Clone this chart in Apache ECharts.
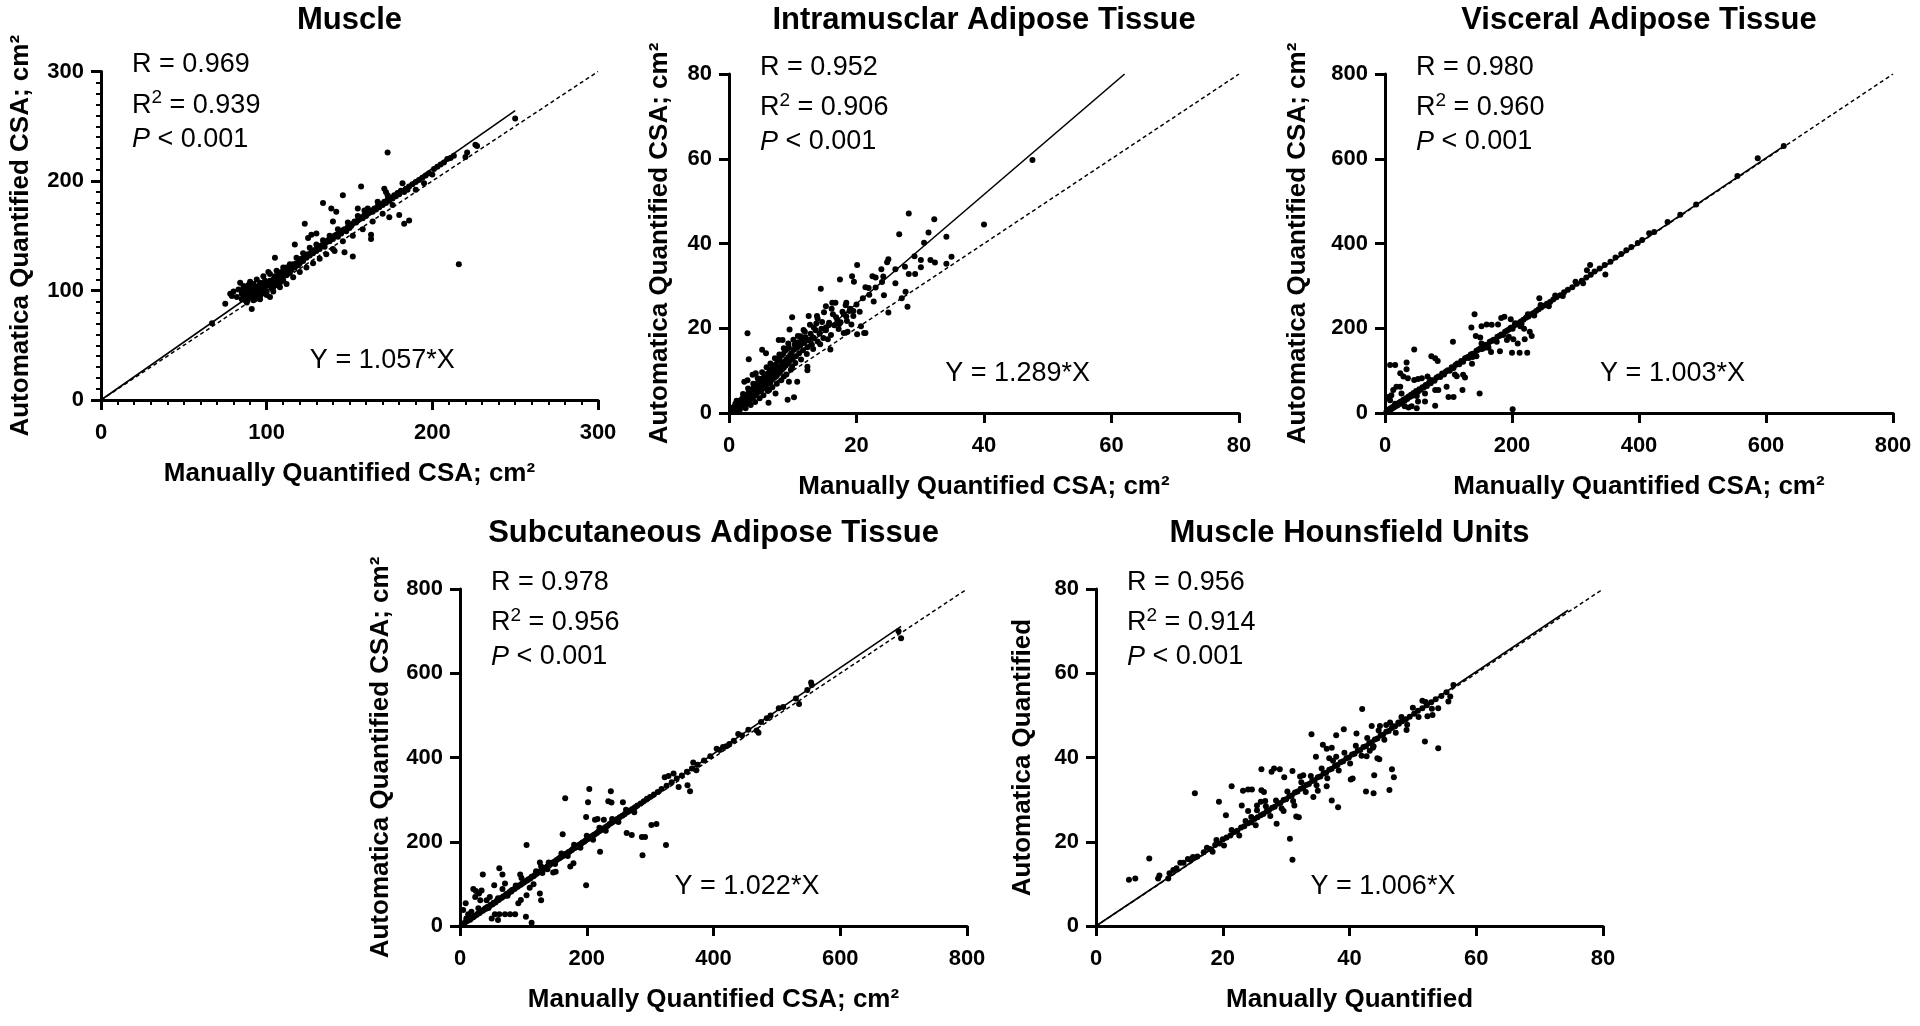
<!DOCTYPE html>
<html>
<head>
<meta charset="utf-8">
<script src="https://cdn.jsdelivr.net/npm/echarts@6/dist/echarts.min.js"></script>
<style>
html,body{margin:0;padding:0;background:#fff;}
#chart{width:1920px;height:1026px;}
</style>
</head>
<body>
<div id="chart"></div>
<script>
// ---------------- DATA ----------------
const panelTitles = ['Muscle', 'Intramusclar Adipose Tissue', 'Visceral Adipose Tissue', 'Subcutaneous Adipose Tissue', 'Muscle Hounsfield Units'];
const xAxisNames = ['Manually Quantified CSA; cm²', 'Manually Quantified CSA; cm²', 'Manually Quantified CSA; cm²', 'Manually Quantified CSA; cm²', 'Manually Quantified'];
const yAxisNames = ['Automatica Quantified CSA; cm²', 'Automatica Quantified CSA; cm²', 'Automatica Quantified CSA; cm²', 'Automatica Quantified CSA; cm²', 'Automatica Quantified'];
const axisMax = [300, 80, 800, 800, 80];
const axisStep = [100, 20, 200, 200, 20];
const rValues = ['0.969', '0.952', '0.980', '0.978', '0.956'];
const r2Values = ['0.939', '0.906', '0.960', '0.956', '0.914'];
const pValues = ['0.001', '0.001', '0.001', '0.001', '0.001'];
const slopeLabels = ['1.057', '1.289', '1.003', '1.022', '1.006'];
// end points of the fitted lines (start at origin)
const fitEnds = [[250, 264.25], [62.06, 80], [628, 629.9], [696, 711.3], [74.5, 74.95]];
// end points of the identity (dashed) lines
const identityEnds = [[300, 300], [80, 80], [800, 800], [800, 800], [80, 80]];

const musclePts = [[67,70],[75,88],[78,97],[79,95],[80,99],[82,94],[83,101],[84,107],[85,92],[85,97],[86,95],[86,100],[87,103],[87,91],[88,96],[88,99],[89,105],[89,93],[90,97],[90,101],[91,83],[91,103],[91,94],[92,98],[92,106],[93,100],[93,92],[94,102],[94,96],[95,104],[95,99],[96,101],[96,107],[96,95],[97,103],[97,99],[98,106],[98,101],[99,97],[99,109],[100,104],[100,107],[100,99],[101,117],[101,105],[102,94],[102,109],[103,107],[103,102],[104,110],[104,103],[105,130],[105,108],[105,113],[106,105],[106,110],[107,112],[107,116],[108,107],[108,114],[109,111],[109,117],[110,113],[110,109],[111,119],[111,115],[112,114],[112,121],[113,118],[114,120],[114,116],[115,122],[115,119],
[116,124],[117,142],[117,121],[118,125],[119,123],[120,128],[120,125],[121,129],[122,127],[123,161],[123,131],[124,130],[125,148],[125,133],[126,132],[127,135],[127,151],[128,134],[129,137],[130,152],[130,136],[131,139],[132,138],[133,141],[134,180],[134,142],[135,140],[136,144],[137,146],[138,145],[139,175],[139,148],[140,163],[140,147],[141,136],[141,150],[142,172],[142,151],[143,149],[144,153],[145,152],[146,187],[146,155],[147,135],[147,156],[148,154],[149,158],[150,157],[150,160],[151,159],[152,131],[152,161],[153,163],[154,162],[155,175],[155,164],[156,165],[157,195],[157,167],[158,166],[159,173],[159,169],[160,168],
[161,170],[162,171],[163,151],[163,147],[163,173],[164,172],[165,175],[166,174],[167,177],[168,176],[169,179],[170,178],[171,193],[171,181],[172,190],[172,180],[173,226],[173,183],[174,167],[174,182],[175,185],[176,184],[177,187],[178,186],[179,189],[180,169],[180,188],[181,191],[182,198],[183,161],[183,190],[184,193],[185,192],[186,164],[186,195],[188,197],[190,192],[190,199],[192,201],[194,203],[195,198],[196,205],[198,207],[200,206],[201,211],[203,213],[205,215],[207,217],[209,220],[211,221],[213,223],[216,124],[220,222],[221,226],[226,233],[227,232],[250,257],
[86,104],[88,89],[90,108],[92,91],[94,110],[96,92],[98,113],[100,96],[102,115],[104,99],[106,118],[108,103],[110,121],[112,106],[114,124],[116,112],[118,130],[120,117],[122,134],[124,121],[126,139],[128,125],[130,142],[132,129],[134,146],[136,133],[138,150],[140,138],[143,156],[146,145],[149,162],[152,150],[155,168],[158,156],[161,175],[164,163],[167,181],[170,170],[173,187],[176,178]];

const imatPts = [[47.6,59.7],[40,44.5],[28.2,47.1],[32.2,45.7],[26.7,42.2],[31.3,42.6],[34.1,41.6],[30.6,40.2],[29.1,37],[30.1,36.1],[30.1,34.4],[31.6,36.1],[32.3,35.5],[34.1,35.2],[34.9,36.9],[25,36.3],[24.8,35.6],[26.1,33.9],[27.6,34.5],[28.2,32.8],[29.2,32.8],[23.9,33.9],[22.5,32.3],[23,32],[24.2,32.2],[20.1,34.9],[19.3,32.3],[19.6,31],[17.4,31.5],[14.4,29.3],[21.4,29.7],[21.9,29.5],[24.3,27.8],[22.7,26.3],[26.1,30.6],[27.7,28.6],[28,25.1],[25,23.7],[27.1,27.1],[16.2,26],[16.7,26],[15.2,25.2],[18.4,26],[19.5,24.1],[18.9,24.1],[12.5,22.9],[9.9,22.6],[13.9,22.3],[14.6,21.5],[16.3,23.3],[16.8,22.6],[17.8,23.9],[18.4,22.8],[17.3,21],[20.7,20.5],[21.2,18.9],[20.1,18.6],[21.4,18.9],[18.6,19.2],[18,18.9],[15.9,15],[2.9,18.8],[9.5,19.7],[12.5,17.2],[13.1,17.9],[8.4,17.2],[7.8,17.2],[5.2,14.9],[5.8,14.1],[3.1,12.7],[4.2,9.4],[3.7,9],[2.4,7.4],[2.9,7.7],[9.2,3.1],[10.2,3.7],[6.2,2.4],[10.7,7.4],[9.4,7.4],[12.3,10.1],[12.3,10.9],[9.9,10.9],[8.6,8.6],[7.3,4.6],[6.3,5.4],[10.5,16.3],[11.2,18.1],[11.9,19.2],[13.3,20.2],[13.7,21.1],[15.2,20.2],[15.7,21.3],
[0.3,0.5],[0.5,1.2],[0.6,0.3],[0.8,1.5],[0.9,0.8],[1,2.2],[1.1,1],[1.2,0.4],[1.3,1.8],[1.4,2.6],[1.5,1.3],[1.6,2.1],[1.7,0.8],[1.8,3],[1.9,2.4],[2,1.6],[2.1,3.4],[2.2,2.8],[2.3,1.9],[2.4,3.7],[2.5,3.1],[2.6,2.2],[2.7,4.1],[2.8,3.3],[2.9,2.5],[3,4.6],[3.1,3.8],[3.2,2.9],[3.3,5.1],[3.4,4.2],[3.5,3.4],[3.6,5.5],[3.7,4.6],[3.8,3.8],[3.9,6.1],[4,5.1],[4.1,4.2],[4.2,6.6],[4.3,5.4],[4.4,4.7],[4.5,7.1],[4.6,5.8],[4.7,5.1],[4.8,7.4],[4.9,6.3],[5,5.2],[5.1,8.1],[5.2,6.9],[5.3,5.7],[5.4,7.6],[5.5,8.5],[5.6,6.2],[5.7,7.3],[5.8,9.1],[5.9,6.5],[6,7.9],[6.1,9.3],[6.2,7.1],[6.3,8.2],[6.4,10.1],[6.5,7.4],[6.6,8.9],[6.7,10.5],[6.8,7.9],[6.9,9.3],[7,11.2],[7.1,8.3],[7.2,9.8],[7.3,11.4],[7.4,8.7],[7.5,10.1],[7.6,12.3],[7.7,9.2],[7.8,10.7],[7.9,12.7],[8,9.7],[8.1,11.1],[8.2,13.5],[8.3,10.2],[8.4,11.6],[8.5,13.9],[8.6,10.7],[8.7,12.1],[8.8,14.7],[8.9,11.2],[9,12.6],[9.1,15.1],[9.2,11.7],[9.3,13.1],[9.4,15.4],[9.5,12.2],[9.6,13.7],[9.8,14.1],[10,12.8],[10.2,14.9],[10.3,16.1],[10.5,13.4],[10.7,15.4],[10.9,16.7],[11,14.1],[11.2,16],[11.4,17.4],[11.6,14.8],[11.8,16.5],[12,17.9],[12.3,15.5],[12.5,17.1],[12.8,18.7],[13,16.1],[13.3,17.7],[13.6,19.5],[13.9,16.9],[14.2,18.7],[14.5,19.9],[14.8,17.7],[15.2,19.5],[15.6,20.7],[16,18.4],[16.5,20.7],[17,21.9],[17.5,21.4],[18,23.3],[18.5,21.7],[19,24.6],[19.5,22.9],[20,25.6],[20.5,23.9],[21,27.1],[22,27.9],[23,29.6],[24,30.9],
[1.2,2.9],[1.6,0.5],[2.2,4.5],[2.6,1.1],[3,5.8],[3.4,1.9],[3.8,6.9],[4.1,2.6],[4.5,8.2],[4.8,3.5],[5.2,9.6],[5.4,4.2],[5.9,10.8],[6.1,5.2],[6.5,11.7],[6.8,6.1],[7.2,12.9],[7.5,6.9],[7.9,13.8],[8.2,7.7],[8.6,15.3],[9,9.1],[9.3,16.4],[9.7,10.2],[10.1,17.3],[10.4,11.8],[10.8,18.2],[11.3,12.6],[11.7,19.6],[12.2,13.9],[12.7,20.8],[13.2,15.1],[13.8,22.9],[14.3,16.2],[14.9,23.8],[15.5,17.4],[16.1,24.6],[17.2,19.8],[18.3,25.4],[19.2,20.9]];

const vatPts = [[141,233],[46,150],[107,168],[79,129],[83,123],[73,134],[8,113],[16,113],[34,119],[34,103],[137,116],[126,84],[123,90],[122,54],[100,38],[108,38],[79,54],[79,17],[84,54],[97,62],[63,46],[63,27],[50,40],[52,27],[42,16],[50,11],[37,13],[31,16],[24,62],[18,62],[13,54],[26,46],[10,42],[8,30],[16,22],[5,38],[24,94],[29,86],[36,82],[46,78],[52,80],[58,82],[67,86],[71,78],[110,91],[113,87],[131,132],[138,132],[144,134],[136,202],[143,182],[150,178],[152,205],[160,209],[168,208],[178,209],[183,224],[188,227],[198,221],[195,180],[202,174],[192,172],[209,164],[200,142],[212,142],[224,142],[220,174],[231,182],[228,192],[176,168],[181,146],[167,144],[163,154],[157,154],[152,164],[213,205],[219,199],[149,46],[201,9],[347,327],[318,337],[323,349],[243,271],
[2,2],[3,5],[5,4],[6,8],[8,7],[9,11],[11,10],[12,14],[14,13],[15,17],[17,16],[19,21],[20,18],[22,24],[24,22],[25,27],[27,26],[29,31],[31,29],[33,35],[35,33],[37,39],[39,38],[41,43],[43,41],[45,47],[47,46],[49,52],[52,50],[54,56],[56,55],[59,61],[61,60],[64,66],[66,64],[69,71],[72,70],[75,77],[78,76],[81,83],[84,86],[87,85],[90,93],[93,91],[96,98],[99,101],[102,100],[105,108],[108,106],[111,113],[114,117],[117,115],[120,123],[123,121],[126,129],[129,131],[132,130],[135,138],[138,140],[141,139],[144,147],[147,149],[150,152],[153,151],[156,159],[159,161],[162,160],[165,168],[168,170],[171,173],[174,172],[177,180],[180,182],[183,185],[186,184],[189,192],[192,194],[195,197],[198,201],[201,199],[204,207],[207,210],[210,212],[214,216],[218,220],[222,225],[226,228],[230,233],[234,236],[238,241],[242,245],[246,249],[250,253],[255,258],[260,262],[265,268],[270,273],[276,278],[282,285],[288,291],[295,297],[302,305],[310,312],[317,320],[324,326],[330,334],[338,341],[346,349],[355,357],[363,367],[372,375],[380,384],[388,392],[398,401],[405,408],[416,424],[424,427],[445,451],[465,468],[490,492],[555,559],[587,601],[628,630],
[205,212],[215,210],[225,233],[235,230],[245,255],[258,252],[268,277],[280,276],[300,310],[312,306]];

const satPts = [[204,325],[238,320],[166,303],[202,294],[234,296],[239,293],[257,294],[199,259],[213,252],[217,254],[227,252],[105,192],[162,218],[199,97],[263,221],[271,216],[287,211],[292,211],[288,168],[325,192],[302,240],[310,242],[221,176],[174,141],[179,149],[151,129],[147,127],[138,135],[126,151],[128,141],[62,137],[67,122],[36,122],[34,84],[21,88],[25,83],[30,77],[9,54],[5,38],[54,97],[71,101],[67,88],[95,122],[97,114],[62,28],[71,28],[79,28],[87,28],[55,28],[50,18],[60,14],[104,22],[113,8],[126,77],[128,61],[96,62],[92,54],[40,42],[29,42],[18,34],[13,28],[10,18],[47,69],[42,61],[53,54],[24,69],[32,61],[81,84],[105,73],[116,99],[110,91],[337,362],[329,356],[323,353],[345,330],[363,320],[359,334],[368,388],[373,370],[554,578],[696,683],[503,517],[535,527],[468,464],[484,493],[405,421],[439,456],[471,459],[420,427],
[3,4],[6,5],[8,9],[11,11],[13,14],[16,15],[18,19],[21,21],[23,24],[26,26],[28,29],[31,31],[33,35],[36,36],[38,39],[41,41],[43,45],[46,46],[48,50],[51,51],[53,55],[56,56],[58,60],[61,62],[63,65],[66,67],[68,70],[71,72],[73,76],[76,77],[78,81],[81,82],[83,86],[86,88],[88,91],[91,93],[93,96],[96,98],[98,101],[101,103],[103,106],[106,108],[108,111],[111,113],[113,117],[116,118],[118,121],[121,124],[123,127],[126,128],[128,131],[131,134],[133,137],[136,139],[138,142],[141,144],[143,147],[146,150],[148,152],[151,155],[153,157],[156,160],[158,162],[161,165],[163,167],[166,170],[168,172],[171,175],[173,177],[176,180],[178,183],[181,185],[183,187],[186,190],[188,193],[191,195],[193,198],[196,200],[198,203],[201,206],[203,208],[206,211],[208,213],[211,216],[213,218],[216,221],[218,224],[221,226],[224,229],[227,232],[230,235],[233,238],[236,242],[239,245],[242,248],[245,251],[248,254],[252,258],[256,262],[260,266],[264,270],[268,274],[272,278],[276,282],[280,286],[285,291],[290,296],[295,302],[300,306],[306,312],[312,318],[318,325],[326,333],[334,341],[342,350],[350,357],[358,366],[366,374],[375,383],[385,393],[395,403],[410,418],[415,425],[425,432],[432,440],[445,452],[455,466],[475,484],[490,500],[510,520],[530,540],[548,560],[555,572],[692,700],
[120,130],[130,126],[140,151],[150,147],[160,172],[170,166],[180,193],[190,186],[200,214],[210,205],[220,233],[230,226],[240,254],[250,247],[262,276],[275,270],[88,96],[75,72],[60,66],[45,43]];

const huPts = [[8.4,16],[5.2,11],[6.2,11.3],[10,12],[11.6,12.5],[15.6,31.5],[42,51.5],[34,45.5],[31,15.7],[30.6,20.7],[51.9,43.8],[54,42.2],[39.1,46.7],[37.9,45.3],[41.1,45.7],[35.8,43],[36.4,42.1],[37.2,42.3],[34.7,40.2],[37.9,40.2],[36.8,39.8],[26.1,37.2],[28.1,37.4],[29,37.2],[27.7,36.6],[29.7,35.3],[31,36.8],[32.2,35.5],[32.7,35.8],[21.4,33.2],[23.2,32.1],[24,32.4],[24.6,32.4],[26.1,32.2],[26.5,31.8],[19.4,29.5],[23,28.6],[24,27.3],[25.4,28.6],[26,29.5],[26.7,29.7],[25.4,27.5],[20.5,26.3],[28.5,24.3],[29.6,27.3],[31.3,28.6],[31.6,26],[32,25.8],[34.3,30.6],[37.2,29.8],[38.2,28.2],[36.4,33.2],[35,32.1],[40.5,35],[40.2,34.8],[42.6,31.9],[43.8,31.5],[46.3,32.3],[43.9,35.8],[46.7,37.2],[47,35.3],[44.4,39.8],[44.7,39.6],[43.8,42.7],[43.2,41.6],[42.7,40.3],[45.8,47.7],[44.8,47.5],[43.5,47.5],[47.7,48.3],[46.8,47.4],[49,46.5],[53.1,50.1],[52.3,49.8],[54,51.7],[51.5,53.5],[55.6,53.3],[55.9,54.5],[9.8,11.3],[11.4,11.3],[12.2,13.3],[12.7,13.7],[13.3,15],[13.8,15],[14.9,15.7],
[16,16.5],[17,17.5],[18,18.3],[18.8,19.2],[19.5,19.6],[20,20.6],[20.6,21],[21.2,21.5],[21.8,22.3],[22.3,22.6],[22.9,23.4],[23.4,23.7],[24,24.4],[24.5,24.6],[25,25.4],[25.5,25.8],[26,26.3],[26.4,26.6],[26.9,27.2],[27.3,27.5],[27.8,28.1],[28.2,28.3],[28.7,29],[29.1,29.2],[29.6,29.9],[30,30.1],[30.5,30.8],[30.9,31],[31.4,31.7],[31.8,31.9],[32.3,32.6],[32.7,32.8],[33.2,33.5],[33.6,33.7],[34.1,34.4],[34.5,34.6],[35,35.3],[35.4,35.5],[35.9,36.2],[36.3,36.4],[36.8,37.1],[37.2,37.3],[37.7,38],[38.1,38.2],[38.6,38.9],[39,39.1],[39.5,39.8],[39.9,40],[40.4,40.7],[40.8,40.9],[41.3,41.6],[41.7,41.8],[42.2,42.5],[42.6,42.7],[43.1,43.4],[43.5,43.6],[44,44.3],[44.4,44.5],[44.9,45.2],[45.3,45.4],[45.8,46.1],[46.2,46.3],[46.7,47],[47.2,47.4],[47.8,48],[48.3,48.6],[48.9,49.1],[49.5,49.7],[50.2,50.4],[50.8,51.1],[51.5,51.7],[52.2,52.4],[52.9,53.1],[53.6,53.8],[54.5,54.6],[55.3,55.5],[56.4,57.2],
[24.5,25.9],[25.2,23.9],[26.8,28.4],[27.5,26.1],[28.4,29.8],[29.3,27.9],[30.2,31.9],[31.1,29.7],[32.4,34.1],[33.1,31.8],[33.9,35.6],[34.8,33.4],[35.6,37.4],[36.5,35.1],[37.4,39.2],[38.3,36.9],[39.2,41.1],[40.1,38.6],[41,42.8],[41.9,40.4],[42.8,44.6],[43.7,42.3],[44.6,46.4],[45.5,44.2],[46.4,48.3],[47.3,45.9],[48.2,49.6],[49.1,47.8],[50,51.8],[50.9,49.6],[52,53.2],[53,51.6],[19,20.4],[20.2,19.1],[21.4,22.8],[22.6,21.5],[23.6,24.9],[17.5,18.6],[18.4,17.6],[14.5,15.9],[15.3,16.4]];

const panelPoints = [musclePts, imatPts, vatPts, satPts, huPts];

// ---------------- LAYOUT ----------------
const FONT = "'Liberation Sans', Arial, Helvetica, sans-serif";
const grids = [
  {left: 101, top: 71.5, width: 497, height: 328.5},
  {left: 729, top: 74, width: 510, height: 339},
  {left: 1385, top: 74, width: 508, height: 339},
  {left: 460, top: 589, width: 507, height: 337},
  {left: 1096, top: 589, width: 507, height: 337}
];
const titleY = [20, 20, 20, 533, 533];
const yNameGap = [67, 56, 74, 66, 60];

const option = {
  animation: false,
  backgroundColor: '#fff',
  grid: [], xAxis: [], yAxis: [], series: [], graphic: []
};

const axisCommon = (i) => ({
  gridIndex: i,
  type: 'value',
  min: 0,
  max: axisMax[i],
  interval: axisStep[i],
  nameLocation: 'middle',
  nameTextStyle: {color: '#000', fontFamily: FONT, fontWeight: 'bold', fontSize: 26},
  axisLine: {show: true, onZero: false, lineStyle: {color: '#000', width: 3}},
  axisTick: {show: true, inside: false, length: 10, lineStyle: {color: '#000', width: 3}},
  minorTick: {show: i === 0, splitNumber: 10, length: 5, lineStyle: {color: '#000', width: 2}},
  splitLine: {show: false},
  minorSplitLine: {show: false},
  axisLabel: {color: '#000', fontFamily: FONT, fontWeight: 'bold', fontSize: 22, showMinLabel: true, showMaxLabel: true}
});

for (let i = 0; i < 5; i++) {
  const g = grids[i];
  option.grid.push(Object.assign({containLabel: false}, g));
  const xa = axisCommon(i);
  xa.position = 'bottom';
  xa.name = xAxisNames[i];
  xa.nameGap = 61;
  xa.axisLabel.margin = 22;
  option.xAxis.push(xa);
  const ya = axisCommon(i);
  ya.position = 'left';
  ya.name = yAxisNames[i];
  ya.nameGap = yNameGap[i];
  ya.axisLabel.margin = 17;
  option.yAxis.push(ya);

  option.series.push({
    type: 'scatter', xAxisIndex: i, yAxisIndex: i,
    data: panelPoints[i], symbol: 'circle', symbolSize: 6,
    itemStyle: {color: '#000', opacity: 1}, z: 3
  });
  option.series.push({
    type: 'line', xAxisIndex: i, yAxisIndex: i,
    data: [[0, 0], fitEnds[i]], showSymbol: false, symbol: 'none',
    lineStyle: {color: '#000', width: 1.6, type: 'solid'}, z: 4
  });
  option.series.push({
    type: 'line', xAxisIndex: i, yAxisIndex: i,
    data: [[0, 0], identityEnds[i]], showSymbol: false, symbol: 'none',
    lineStyle: {color: '#000', width: 1.5, type: [4, 3]}, z: 4
  });

  // panel title
  option.graphic.push({
    type: 'text', x: g.left + g.width / 2, y: titleY[i],
    style: {text: panelTitles[i], fill: '#000', font: 'bold 31px ' + FONT,
            textAlign: 'center', textVerticalAlign: 'middle', align: 'center', verticalAlign: 'middle'}
  });
  const sx = g.left + 31;
  const rich = {
    a: {fontSize: 27, fontFamily: FONT, fill: '#000', lineHeight: 34},
    s: {fontSize: 19, fontFamily: FONT, fill: '#000', lineHeight: 24, verticalAlign: 'top'},
    it: {fontSize: 27, fontFamily: FONT, fill: '#000', fontStyle: 'italic', lineHeight: 34}
  };
  option.graphic.push({
    type: 'text', x: sx, y: g.top - 6.5,
    style: {text: 'R = ' + rValues[i], fill: '#000', font: '27px ' + FONT,
            textAlign: 'left', textVerticalAlign: 'middle', align: 'left', verticalAlign: 'middle'}
  });
  option.graphic.push({
    type: 'text', x: sx, y: g.top + 34,
    style: {text: '{a|R}{s|2}{a| = ' + r2Values[i] + '}', rich: rich, fill: '#000', font: '27px ' + FONT,
            textAlign: 'left', textVerticalAlign: 'middle', align: 'left', verticalAlign: 'middle'}
  });
  option.graphic.push({
    type: 'text', x: sx, y: g.top + 68,
    style: {text: '{it|P}{a| < ' + pValues[i] + '}', rich: rich, fill: '#000', font: '27px ' + FONT,
            textAlign: 'left', textVerticalAlign: 'middle', align: 'left', verticalAlign: 'middle'}
  });
  // regression equation
  option.graphic.push({
    type: 'text', x: g.left + 0.566 * g.width, y: g.top + g.height - 39,
    style: {text: 'Y = ' + slopeLabels[i] + '*X', fill: '#000', font: '27px ' + FONT,
            textAlign: 'center', textVerticalAlign: 'middle', align: 'center', verticalAlign: 'middle'}
  });
}

const chart = echarts.init(document.getElementById('chart'), null, {renderer: 'canvas'});
chart.setOption(option);
</script>
</body>
</html>
